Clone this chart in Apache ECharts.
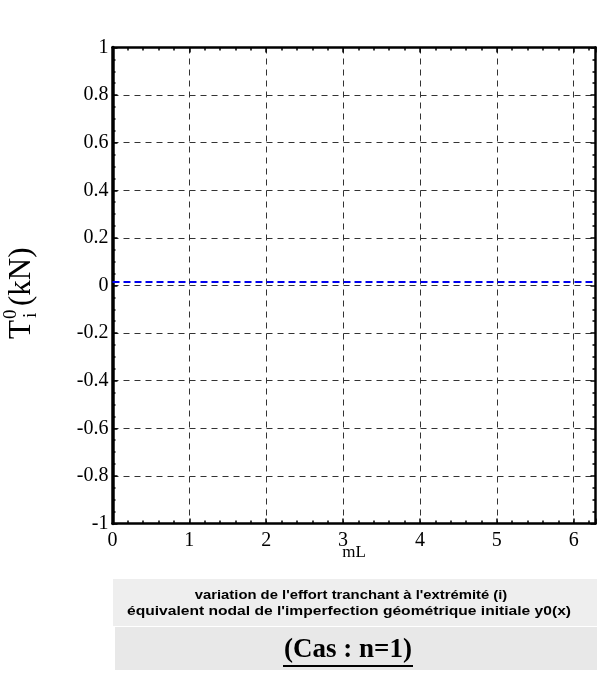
<!DOCTYPE html>
<html><head><meta charset="utf-8">
<script src="https://cdn.jsdelivr.net/npm/echarts@6/dist/echarts.min.js"></script>
<style>html,body{margin:0;padding:0;background:#fff}#c{width:597px;height:673px}</style>
</head><body><div id="c"></div>
<script>
// data
var xValues = [0, 1, 2, 3, 4, 5, 6, 6.2832];
var yValues = [0.015, 0.015, 0.015, 0.015, 0.015, 0.015, 0.015, 0.015];
var xTickLabels = ['0', '1', '2', '3', '4', '5', '6'];
var yTickLabels = ['-1', '-0.8', '-0.6', '-0.4', '-0.2', '0', '0.2', '0.4', '0.6', '0.8', '1'];
var titleLine1 = "variation de l'effort tranchant à l'extrémité (i)";
var titleLine2 = "équivalent nodal de l'imperfection géométrique initiale y0(x)";
var caseLabel = "(Cas : n=1)";

var chart = echarts.init(document.getElementById('c'), null, {renderer: 'canvas'});
var serif = 'Liberation Serif';
var gridStyle = {show: true, lineStyle: {color: '#333', width: 1, type: [6, 5]}};
function xfmt(v) { var r = Math.round(v); return Math.abs(v - r) < 1e-6 && r >= 0 && r < xTickLabels.length ? xTickLabels[r] : ''; }
function yfmt(v) { var i = Math.round((v + 1) / 0.2); return Math.abs(v - (-1 + i * 0.2)) < 1e-6 ? yTickLabels[i] : ''; }

var option = {
  animation: false,
  grid: {left: 112.5, right: 1.5, top: 47.5, bottom: 149.5},
  xAxis: [{
    type: 'value', min: 0, max: 6.2832, interval: 1,
    axisLine: {show: true, onZero: false, lineStyle: {color: '#000', width: 2.5}},
    axisTick: {show: true, inside: true, length: 5, lineStyle: {color: '#000', width: 1.5}},
    minorTick: {show: true, splitNumber: 5, length: 3, lineStyle: {color: '#000', width: 1.5}},
    axisLabel: {formatter: xfmt, showMaxLabel: false, color: '#000', fontFamily: serif, fontSize: 20, margin: 7},
    splitLine: gridStyle,
    name: 'mL', nameLocation: 'middle', nameGap: 21, nameMoveOverlap: false,
    nameTextStyle: {color: '#000', fontFamily: serif, fontSize: 17}
  }, {
    type: 'value', position: 'top', min: 0, max: 6.2832, interval: 1,
    axisLine: {show: true, onZero: false, lineStyle: {color: '#000', width: 2.5}},
    axisTick: {show: true, inside: true, length: 5, lineStyle: {color: '#000', width: 1.5}},
    minorTick: {show: true, splitNumber: 5, length: 3, lineStyle: {color: '#000', width: 1.5}},
    axisLabel: {show: false}, splitLine: {show: false}
  }],
  yAxis: [{
    type: 'value', min: -1, max: 1, interval: 0.2,
    axisLine: {show: true, onZero: false, lineStyle: {color: '#000', width: 3.5}},
    axisTick: {show: true, inside: true, length: 5, lineStyle: {color: '#000', width: 1.5}},
    minorTick: {show: true, splitNumber: 4, length: 3, lineStyle: {color: '#000', width: 1.5}},
    axisLabel: {formatter: yfmt, color: '#000', fontFamily: serif, fontSize: 20, margin: 4},
    splitLine: gridStyle
  }, {
    type: 'value', position: 'right', min: -1, max: 1, interval: 0.2,
    axisLine: {show: true, onZero: false, lineStyle: {color: '#000', width: 2.5}},
    axisTick: {show: true, inside: true, length: 5, lineStyle: {color: '#000', width: 1.5}},
    minorTick: {show: true, splitNumber: 4, length: 3, lineStyle: {color: '#000', width: 1.5}},
    axisLabel: {show: false}, splitLine: {show: false}
  }],
  series: [{
    type: 'line', xAxisIndex: 0, yAxisIndex: 0,
    data: xValues.map(function (x, i) { return [x, yValues[i]]; }),
    showSymbol: false, symbol: 'none',
    lineStyle: {color: '#0000ee', width: 2, type: [7, 4]}
  }],
  graphic: [
    {type: 'group', x: 37, y: 339, rotation: Math.PI / 2, children: [
      {type: 'text', x: 0, y: 0, style: {text: 'T', font: '31px "Liberation Serif"', fill: '#000', textVerticalAlign: 'bottom'}},
      {type: 'text', x: 20, y: -16, style: {text: '0', font: '19px "Liberation Serif"', fill: '#000', textVerticalAlign: 'bottom'}},
      {type: 'text', x: 21, y: 4, style: {text: 'i', font: '19px "Liberation Serif"', fill: '#000', textVerticalAlign: 'bottom'}},
      {type: 'text', x: 33, y: 0, style: {text: '(kN)', font: '31px "Liberation Serif"', fill: '#000', textVerticalAlign: 'bottom'}}
    ]},
    {type: 'rect', shape: {x: 113, y: 579, width: 484, height: 47}, style: {fill: '#eeeeee'}, z: -1},
    {type: 'rect', shape: {x: 115, y: 627, width: 482, height: 43}, style: {fill: '#e8e8e8'}, z: -1},
    {type: 'text', x: 351, y: 595, scaleX: 1.14, style: {text: titleLine1, font: 'bold 13px "Liberation Sans"', fill: '#000', textAlign: 'center', textVerticalAlign: 'middle'}},
    {type: 'text', x: 349, y: 611, scaleX: 1.2, style: {text: titleLine2, font: 'bold 13px "Liberation Sans"', fill: '#000', textAlign: 'center', textVerticalAlign: 'middle'}},
    {type: 'text', x: 348, y: 650, style: {text: caseLabel, font: 'bold 27px "Liberation Serif"', fill: '#000', textAlign: 'center', textVerticalAlign: 'middle'}},
    {type: 'rect', shape: {x: 283, y: 665, width: 130, height: 2}, style: {fill: '#000'}}
  ]
};
chart.setOption(option);
</script></body></html>
